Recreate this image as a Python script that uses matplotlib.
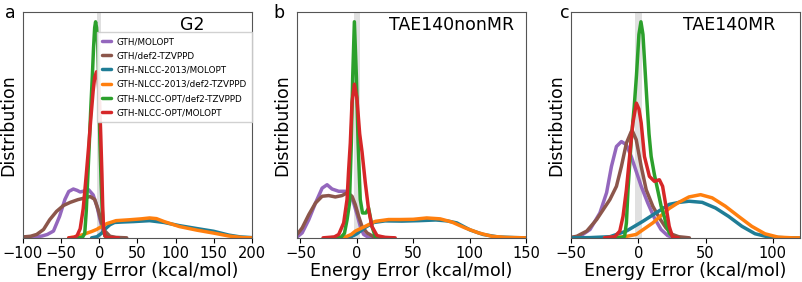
"""
Energy error distributions for the pseudopotential / basis set combinations
on G2, TAE140nonMR and TAE140MR.
"""

import matplotlib
matplotlib.use('Agg')
import matplotlib.pyplot as plt

# Series labels and colours (legend order = draw order)
labels = ['GTH/MOLOPT', 'GTH/def2-TZVPPD', 'GTH-NLCC-2013/MOLOPT',
          'GTH-NLCC-2013/def2-TZVPPD', 'GTH-NLCC-OPT/def2-TZVPPD',
          'GTH-NLCC-OPT/MOLOPT']
colors = ['#9467bd', '#8c564b', '#1f7d96', '#ff7f0e', '#2ca02c', '#d62728']

panel_titles = ['G2', 'TAE140nonMR', 'TAE140MR']
panel_letters = ['a', 'b', 'c']
x_limits = [(-100, 200), (-53, 150), (-50, 120)]
x_ticks = [[-100, -50, 0, 50, 100, 150, 200],
           [-50, 0, 50, 100, 150],
           [-50, 0, 50, 100]]

# ---- panel a: G2 (arbitrary density units) ----
a_gth_molopt_x = [-100, -85, -75, -68, -60, -52, -45, -40, -34, -29, -25, -20, -14, -8, -3, 1, 5, 10, 15, 25]
a_gth_molopt_y = [0.002, 0.004, 0.008, 0.015, 0.03, 0.095, 0.17, 0.205, 0.216, 0.21, 0.203, 0.207, 0.213, 0.19, 0.14, 0.08, 0.03, 0.005, 0.001, 0]
a_gth_def2_x = [-100, -90, -82, -73, -65, -56, -47, -38, -28, -17, -12, -6, -1.5, 3, 7.5, 14, 22, 36]
a_gth_def2_y = [0.004, 0.007, 0.015, 0.037, 0.08, 0.117, 0.143, 0.157, 0.169, 0.178, 0.183, 0.17, 0.125, 0.067, 0.03, 0.007, 0.002, 0]
a_nlcc13_molopt_x = [-10, -3, 3, 8, 14, 20, 30, 45, 66, 85, 105, 128, 150, 170, 185, 200]
a_nlcc13_molopt_y = [0, 0.005, 0.02, 0.04, 0.058, 0.068, 0.07, 0.072, 0.076, 0.068, 0.054, 0.041, 0.029, 0.012, 0.004, 0.001]
a_nlcc13_def2_x = [-40, -30, -21, -10, -3.5, 3, 10, 22, 40, 55, 66, 75, 85, 105, 128, 150, 170, 188, 200]
a_nlcc13_def2_y = [0, 0.005, 0.015, 0.028, 0.037, 0.05, 0.063, 0.076, 0.08, 0.084, 0.088, 0.085, 0.072, 0.05, 0.034, 0.021, 0.008, 0.001, 0]
a_nlccopt_def2_x = [-30, -22, -19, -17, -15, -13, -11, -9, -7.5, -6, -4.8, -3.5, -2, -0.9, 0.9, 2.5, 3.9, 5.5, 7.5, 12, 20]
a_nlccopt_def2_y = [0, 0.002, 0.02, 0.12, 0.27, 0.42, 0.58, 0.72, 0.84, 0.93, 0.956, 0.93, 0.85, 0.71, 0.42, 0.24, 0.125, 0.04, 0.008, 0.001, 0]
a_nlccopt_molopt_x = [-40, -33, -29, -25, -21, -17, -14, -11, -8, -6, -3.5, -1.5, 0.5, 2, 3.5, 4.5, 5.5, 7.5, 11, 15, 25]
a_nlccopt_molopt_y = [0, 0.002, 0.01, 0.04, 0.13, 0.28, 0.4, 0.53, 0.65, 0.71, 0.735, 0.7, 0.6, 0.45, 0.28, 0.14, 0.05, 0.008, 0.002, 0.001, 0]

# ---- panel b: TAE140nonMR ----
b_gth_molopt_x = [-53, -48.5, -42.6, -36.7, -30.8, -26.4, -22, -16.1, -10.2, -5.8, -2.8, 0.2, 3.1, 6, 10.4, 15]
b_gth_molopt_y = [0.004, 0.022, 0.081, 0.154, 0.22, 0.235, 0.216, 0.206, 0.206, 0.19, 0.154, 0.103, 0.05, 0.015, 0.002, 0]
b_gth_def2_x = [-53, -48.5, -42.6, -36.7, -30.8, -25, -19.1, -13.2, -8.7, -4.3, -1.4, 1.6, 4.6, 9, 14.9, 25, 32]
b_gth_def2_y = [0.015, 0.044, 0.103, 0.154, 0.184, 0.187, 0.181, 0.187, 0.199, 0.184, 0.147, 0.095, 0.05, 0.022, 0.005, 0.001, 0]
b_nlcc13_molopt_x = [-12, -5, 0, 8, 15, 25, 40, 55, 70, 80, 88.7, 100.4, 112, 125, 140, 150]
b_nlcc13_molopt_y = [0, 0.005, 0.018, 0.048, 0.068, 0.075, 0.074, 0.076, 0.079, 0.075, 0.066, 0.035, 0.015, 0.004, 0.001, 0]
b_nlcc13_def2_x = [-12, -5, -1.3, 7.5, 16.4, 28.1, 38.5, 50, 62, 73.9, 84.2, 96, 107.8, 119.6, 131.4, 150]
b_nlcc13_def2_y = [0, 0.015, 0.03, 0.051, 0.073, 0.081, 0.081, 0.082, 0.088, 0.084, 0.07, 0.044, 0.022, 0.007, 0.002, 0]
b_nlccopt_def2_x = [-25, -14, -11, -8.7, -6.6, -4.9, -3.7, -2.2, -0.4, 1.1, 3, 5, 8, 10.4, 12, 13.4, 16.4, 22]
b_nlccopt_def2_y = [0, 0.003, 0.02, 0.08, 0.15, 0.42, 0.71, 0.956, 0.71, 0.42, 0.17, 0.11, 0.11, 0.132, 0.09, 0.05, 0.005, 0]
b_nlccopt_molopt_x = [-30, -20, -16.1, -11.7, -8.7, -7.3, -5.8, -4.3, -2.2, 0, 2.5, 4.6, 7.5, 10.4, 13.4, 17.9, 25, 34]
b_nlccopt_molopt_y = [0, 0.004, 0.015, 0.066, 0.17, 0.3, 0.42, 0.6, 0.68, 0.62, 0.46, 0.38, 0.243, 0.125, 0.05, 0.01, 0.002, 0]

# ---- panel c: TAE140MR ----
c_gth_molopt_x = [-50, -43.2, -35.8, -28.5, -23.5, -19.9, -16.2, -12.5, -8.8, -5.2, -1.5, 2.2, 7.1, 12, 16.9, 21.8, 25.4, 32]
c_gth_molopt_y = [0, 0.007, 0.037, 0.11, 0.2, 0.316, 0.404, 0.426, 0.412, 0.36, 0.294, 0.228, 0.154, 0.088, 0.037, 0.01, 0.002, 0]
c_gth_def2_x = [-50, -45.6, -38.2, -30.9, -26, -21.1, -16.2, -12.5, -8.8, -5.2, -4.5, -1.5, 2.2, 5.9, 10.8, 15.7, 20.6, 25.4, 30, 38]
c_gth_def2_y = [0.002, 0.007, 0.03, 0.081, 0.125, 0.169, 0.228, 0.316, 0.419, 0.47, 0.475, 0.434, 0.316, 0.213, 0.14, 0.088, 0.044, 0.015, 0.005, 0]
c_nlcc13_molopt_x = [-50, -35.8, -21, -8.8, 3.4, 15.7, 23, 30.4, 37.7, 47.5, 57.4, 67.1, 77, 86.8, 96.6, 110, 120]
c_nlcc13_molopt_y = [0, 0.001, 0.005, 0.03, 0.073, 0.12, 0.148, 0.157, 0.162, 0.157, 0.132, 0.095, 0.051, 0.018, 0.004, 0, 0]
c_nlcc13_def2_x = [-25, -18.7, -10, -1.5, 10.8, 23, 30.4, 37.7, 46.3, 54.9, 64.7, 74.5, 84.3, 94.1, 103.9, 115, 120]
c_nlcc13_def2_y = [0, 0.002, 0.005, 0.015, 0.066, 0.13, 0.158, 0.181, 0.191, 0.177, 0.14, 0.095, 0.051, 0.018, 0.003, 0, 0]
c_nlccopt_def2_x = [-20, -12, -10.1, -8.8, -7.6, -5.2, -3, -1.3, 0.5, 2, 3.5, 5, 6.5, 8, 9.6, 12, 14.4, 17, 19.3, 21, 23, 26, 30]
c_nlccopt_def2_y = [0, 0.002, 0.007, 0.066, 0.213, 0.434, 0.58, 0.72, 0.9, 0.956, 0.9, 0.75, 0.6, 0.46, 0.36, 0.28, 0.213, 0.14, 0.095, 0.055, 0.022, 0.004, 0]
c_nlccopt_molopt_x = [-25, -17.4, -13.7, -11.3, -8.8, -6.4, -4, -1.4, 0.5, 2.2, 4.6, 8.3, 12, 15.7, 18.1, 20.6, 23, 25.4, 30]
c_nlccopt_molopt_y = [0, 0.005, 0.03, 0.095, 0.213, 0.36, 0.508, 0.596, 0.57, 0.508, 0.36, 0.272, 0.25, 0.257, 0.228, 0.14, 0.051, 0.005, 0]

panels = [
    [(a_gth_molopt_x, a_gth_molopt_y), (a_gth_def2_x, a_gth_def2_y),
     (a_nlcc13_molopt_x, a_nlcc13_molopt_y), (a_nlcc13_def2_x, a_nlcc13_def2_y),
     (a_nlccopt_def2_x, a_nlccopt_def2_y), (a_nlccopt_molopt_x, a_nlccopt_molopt_y)],
    [(b_gth_molopt_x, b_gth_molopt_y), (b_gth_def2_x, b_gth_def2_y),
     (b_nlcc13_molopt_x, b_nlcc13_molopt_y), (b_nlcc13_def2_x, b_nlcc13_def2_y),
     (b_nlccopt_def2_x, b_nlccopt_def2_y), (b_nlccopt_molopt_x, b_nlccopt_molopt_y)],
    [(c_gth_molopt_x, c_gth_molopt_y), (c_gth_def2_x, c_gth_def2_y),
     (c_nlcc13_molopt_x, c_nlcc13_molopt_y), (c_nlcc13_def2_x, c_nlcc13_def2_y),
     (c_nlccopt_def2_x, c_nlccopt_def2_y), (c_nlccopt_molopt_x, c_nlccopt_molopt_y)],
]

fig = plt.figure(figsize=(8.03, 2.82), dpi=100)
lefts = [0.0286, 0.370, 0.711]
title_x = [0.74, 0.675, 0.69]
letter_x = [0.006, 0.340, 0.697]

for i, curves in enumerate(panels):
    ax = fig.add_axes([lefts[i], 0.155, 0.285, 0.803])
    # chemical accuracy band
    ax.axvspan(-2.5, 2.5, color='#d9d9d9', alpha=0.8, lw=0, zorder=0)
    for (xs, ys), lab, col in zip(curves, labels, colors):
        ax.plot(xs, ys, color=col, lw=2.5, label=lab, solid_capstyle='round')
    ax.set_xlim(*x_limits[i])
    ax.set_ylim(-0.002, 1.0)
    ax.set_xticks(x_ticks[i])
    ax.set_yticks([])
    ax.tick_params(axis='x', labelsize=10.5, length=3.5, pad=2)
    ax.set_xlabel('Energy Error (kcal/mol)', fontsize=12.5, labelpad=1)
    ax.set_ylabel('Distribution', fontsize=12.5, labelpad=4)
    for sp in ax.spines.values():
        sp.set_color('#555555')
    ax.text(title_x[i], 0.94, panel_titles[i], transform=ax.transAxes,
            ha='center', va='center', fontsize=12.5)
    fig.text(letter_x[i], 0.955, panel_letters[i], fontsize=12.5,
             ha='left', va='center')
    if i == 0:
        ax.legend(loc='upper right', bbox_to_anchor=(1.0, 0.91),
                  borderaxespad=0, fontsize=6.3, handlelength=1.0,
                  handletextpad=0.7, labelspacing=0.6, borderpad=0.55,
                  framealpha=0.9, edgecolor='#cccccc', fancybox=False)

plt.savefig('out.png', dpi=100)
